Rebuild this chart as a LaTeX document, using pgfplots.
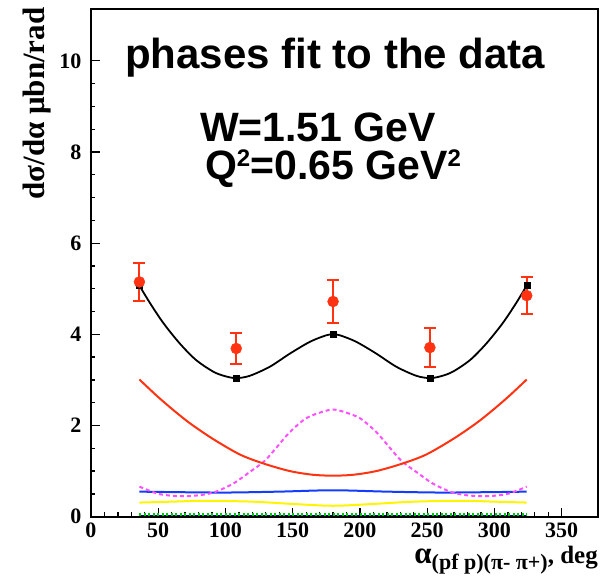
\documentclass[border=0pt]{standalone}
\usepackage{pgfplots}
\pgfplotsset{compat=1.18}
\usepackage{fontspec}
\setmainfont{Liberation Serif}
\newfontfamily\hel{Liberation Sans}
\definecolor{rred}{RGB}{255,51,17}
\definecolor{rpink}{RGB}{255,80,255}
\definecolor{rblue}{RGB}{20,60,255}
\definecolor{ryellow}{RGB}{255,245,0}
\definecolor{rgreen}{RGB}{0,200,0}
\definecolor{rnavy}{RGB}{0,0,140}
\newcommand{\sq}{\raisebox{13pt}{\fontsize{24}{24}\selectfont 2}}
\begin{document}
\begin{tikzpicture}
\path[use as bounding box] (-91pt,-62.3pt) rectangle (519pt,516.7pt);
\begin{axis}[
  at={(0pt,0pt)}, anchor=south west,
  scale only axis, width=507pt, height=507.4pt,
  xmin=0, xmax=377, ymin=0, ymax=11.13,
  axis line style={line width=1.6pt},
  xtick={0,50,...,350}, ytick={0,2,...,10},
  minor x tick num=4, minor y tick num=3,
  xtick pos=left, ytick pos=left, tick align=inside,
  major tick length=9pt, minor tick length=4.5pt,
  every tick/.style={black, line width=1.3pt},
  /pgf/number format/assume math mode=true,
  tick label style={font=\bfseries\fontsize{22}{22}\selectfont},
  yticklabel style={xshift=-6pt},
  xticklabel style={yshift=-3pt},
  xlabel={{\fontsize{31}{31}\selectfont α}\raisebox{-6pt}{\fontsize{22}{22}\selectfont (pf p)(π- π+)}{\fontsize{25}{25}\selectfont , deg}},
  xlabel style={font=\bfseries, at={(axis description cs:1,0)}, anchor=base east, yshift=-47pt, inner sep=0pt},
  ylabel={dσ/dα μbn/rad},
  ylabel style={font=\bfseries\fontsize{31}{31}\selectfont, at={(axis description cs:-0.106,1.004)}, anchor=east, rotate=0, inner sep=0pt},
  clip=false,
]
% navy and green dotted baseline
\addplot[rnavy, line width=1.5pt] coordinates {(36,0.03) (180,0.03) (324,0.03)};
\addplot[rgreen, line width=2.4pt, dash pattern=on 2pt off 2.5pt] coordinates {(36,0.05) (180,0.05) (324,0.05)};
% yellow
\addplot[ryellow, line width=2pt, smooth] coordinates {
(36,0.31) (60,0.33) (85,0.35) (120,0.33) (150,0.28) (180,0.24) (210,0.28) (240,0.33) (275,0.35) (300,0.33) (324,0.31)};
% blue
\addplot[rblue, line width=2pt, smooth] coordinates {
(36,0.55) (60,0.54) (100,0.53) (140,0.55) (180,0.58) (220,0.55) (260,0.53) (300,0.54) (324,0.55)};
% pink dashed
\addplot[rpink, line width=2pt, dash pattern=on 4pt off 3pt, smooth] coordinates {
(36,0.66) (49,0.51) (60,0.46) (71,0.45) (83,0.48) (93,0.55) (106,0.73) (118,0.98) (129,1.22) (138,1.52) (148,1.86) (160,2.16) (172,2.30) (180,2.35)
(188,2.30) (200,2.16) (212,1.86) (222,1.52) (231,1.22) (242,0.98) (254,0.73) (267,0.55) (277,0.48) (289,0.45) (300,0.46) (311,0.51) (324,0.66)};
% red curve
\addplot[rred, line width=2pt, smooth] coordinates {
(36,3.01) (49,2.65) (62,2.32) (74,2.04) (91,1.70) (111,1.36) (129,1.16) (148,1.00) (165,0.92) (180,0.90)
(195,0.92) (212,1.00) (231,1.16) (249,1.36) (269,1.70) (286,2.04) (298,2.32) (311,2.65) (324,3.01)};
% black fit curve
\addplot[black, line width=1.8pt, smooth] coordinates {
(36,5.07) (44,4.68) (54,4.24) (66,3.80) (78,3.44) (91,3.18) (100,3.08) (108,3.04) (118,3.09) (133,3.29) (148,3.58) (163,3.84) (175,3.98) (180,4.00)
(185,3.98) (197,3.84) (212,3.58) (227,3.29) (242,3.09) (252,3.04) (260,3.08) (269,3.18) (282,3.44) (294,3.80) (306,4.24) (316,4.68) (324,5.07)};
\addplot[only marks, mark=square*, mark size=3pt, black] coordinates {
(36,5.07) (108,3.04) (180,4.00) (252,3.04) (324,5.07)};
% data with errors
\addplot[only marks, mark=*, mark size=5.5pt, rred, mark options={fill=rred},
  error bars/.cd, y dir=both, y explicit,
  error bar style={line width=2pt, rred}, error mark options={rotate=90, mark size=6pt, line width=2pt, rred}]
  coordinates {
(36,5.15) +- (0,0.41)
(108,3.69) +- (0,0.35)
(180,4.72) +- (0,0.47)
(252,3.71) +- (0,0.43)
(324,4.85) +- (0,0.40)};
% texts
\node[anchor=base west, inner sep=0pt, font=\hel\bfseries\fontsize{42}{42}\selectfont] at (axis cs:25.3,9.84) {phases fit to the data};
\node[anchor=base west, inner sep=0pt, font=\hel\bfseries\fontsize{41}{41}\selectfont] at (axis cs:81,8.22) {W=1.51 GeV};
\node[anchor=base west, inner sep=0pt, font=\hel\bfseries\fontsize{41}{41}\selectfont] at (axis cs:84.7,7.39) {Q\sq=0.65 GeV\sq};
\end{axis}
\end{tikzpicture}
\end{document}
